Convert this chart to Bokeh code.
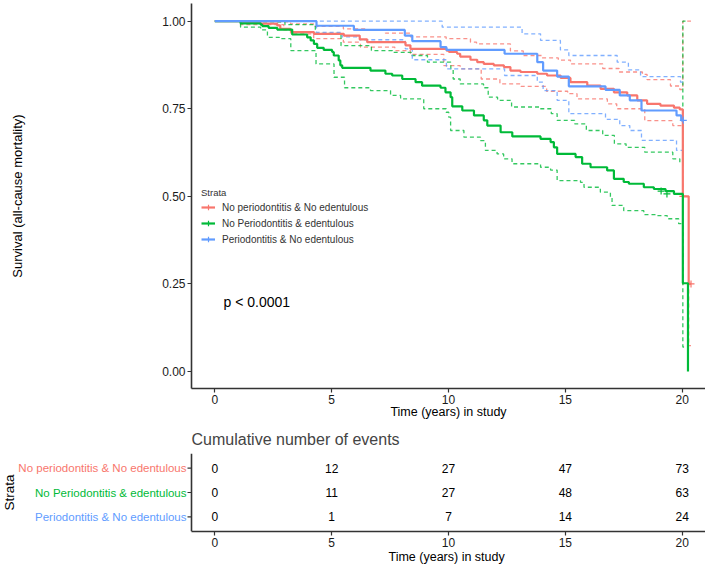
import math
from bokeh.plotting import figure
from bokeh.models import (Range1d, FixedTicker, Label, Legend, LegendItem, LinearAxis, Span, Title,
                          ColumnDataSource, NumeralTickFormatter)
from bokeh.layouts import column
from bokeh.core.properties import value
from bokeh.embed import file_html
from bokeh.resources import INLINE

FONT = "Liberation Sans"
RED = "#F8766D"
GREEN = "#00BA38"
BLUE = "#619CFF"
AXIS_COL = "#333333"

# ---------------- data ----------------
strata = ["No periodontitis & No edentulous",
          "No Periodontitis & edentulous",
          "Periodontitis & No edentulous"]

red_t = [0, 1.1, 1.96, 2.67, 2.8, 3.24, 3.3, 4.24, 5.52, 6.2, 6.52, 8.16, 8.37, 9.92, 10.02, 10.37, 10.5,
         10.94, 11.23, 11.51, 11.94, 12.37, 12.65, 13.08, 13.8, 14.22, 14.8, 15.22, 15.94, 16.51,
         17.08, 17.65, 18.08, 18.5, 19.07, 19.65, 19.9, 20.03, 20.28, 20.38]
red_s = [1.0, 0.996, 0.993, 0.988, 0.978, 0.973, 0.969, 0.964, 0.959, 0.948, 0.940, 0.931, 0.921, 0.916,
         0.912, 0.907, 0.899, 0.890, 0.883, 0.878, 0.874, 0.869, 0.859, 0.855, 0.850, 0.845, 0.838,
         0.826, 0.816, 0.807, 0.797, 0.788, 0.774, 0.764, 0.759, 0.753, 0.748, 0.500, 0.250, 0.250]
red_up_t = [0, 2.67, 3.24, 4.23, 5.5, 6.52, 7.3, 8.37, 9.9, 10.94, 11.2, 12.65, 13.2, 14.0, 14.7,
            15.22, 16.6, 17.3, 18.3, 18.5, 19.5, 19.9, 20.03, 20.38]
red_up_s = [1.0, 0.998, 0.992, 0.985, 0.978, 0.975, 0.966, 0.955, 0.950, 0.940, 0.935, 0.915, 0.902,
            0.895, 0.889, 0.878, 0.865, 0.855, 0.848, 0.833, 0.815, 0.805, 1.0, 1.0]
red_lo_t = [0, 1.1, 2.95, 3.24, 4.23, 5.5, 6.23, 7.7, 8.37, 9.8, 10.5, 11.4, 12.2, 13.1, 14.2, 15.1,
            15.5, 16.8, 17.2, 18.4, 19.6, 20.03, 20.28, 20.38]
red_lo_s = [1.0, 0.99, 0.975, 0.964, 0.95, 0.94, 0.926, 0.916, 0.905, 0.873, 0.864, 0.835, 0.821,
            0.814, 0.80, 0.793, 0.778, 0.764, 0.75, 0.716, 0.702, 0.25, 0.074, 0.074]

green_t = [0, 1.1, 1.96, 2.03, 2.3, 2.67, 3.31, 3.95, 4.1, 4.24, 4.38, 4.66, 5.02, 5.09, 5.3, 5.37, 5.45,
           6.66, 7.3, 7.59, 8.02, 8.59, 8.87, 9.66, 9.87, 10.09, 10.16, 10.59, 11.09, 11.51, 11.66,
           12.23, 12.73, 13.94, 14.37, 14.51, 14.65, 15.44, 15.72, 16.08, 16.79, 17.08, 17.5, 17.72,
           18.36, 18.79, 19.29, 19.65, 20.03, 20.25, 20.25]
green_s = [1.0, 0.994, 0.99, 0.986, 0.981, 0.976, 0.962, 0.954, 0.945, 0.935, 0.924, 0.918, 0.912,
           0.902, 0.888, 0.874, 0.867, 0.859, 0.850, 0.845, 0.835, 0.826, 0.816, 0.810, 0.797, 0.783,
           0.757, 0.745, 0.731, 0.717, 0.702, 0.683, 0.671, 0.664, 0.655, 0.640, 0.621, 0.612, 0.593,
           0.583, 0.574, 0.550, 0.541, 0.536, 0.526, 0.521, 0.515, 0.507, 0.252, 0.0, 0.0]
green_up_t = [0, 1.1, 3.0, 4.3, 5.4, 6.7, 7.6, 8.4, 9.1, 10.1, 10.2, 10.5, 11.5, 11.7, 12.1, 12.7,
              13.9, 14.4, 14.65, 15.4, 15.9, 16.6, 17.1, 17.6, 18.4, 19.6, 19.9, 20.03, 20.25]
green_up_s = [1.0, 0.998, 0.99, 0.965, 0.93, 0.916, 0.911, 0.902, 0.883, 0.864, 0.835, 0.821, 0.81,
              0.783, 0.774, 0.755, 0.75, 0.736, 0.717, 0.707, 0.688, 0.674, 0.65, 0.64, 0.626, 0.607,
              0.597, 1.0, 1.0]
green_lo_t = [0, 1.1, 1.96, 2.25, 2.76, 3.25, 4.33, 5.1, 5.55, 6.66, 7.52, 7.95, 8.94, 9.9, 10.01,
              10.09, 10.66, 11.37, 11.58, 12.08, 12.36, 12.72, 13.94, 14.37, 14.65, 15.65, 15.8, 16.5,
              16.93, 17.0, 17.5, 18.36, 18.93, 19.36, 19.85, 20.03, 20.25]
green_lo_s = [1.0, 0.983, 0.975, 0.954, 0.95, 0.916, 0.878, 0.84, 0.81, 0.802, 0.788, 0.778, 0.75,
              0.74, 0.726, 0.688, 0.669, 0.659, 0.631, 0.621, 0.607, 0.593, 0.583, 0.575, 0.545, 0.54,
              0.526, 0.512, 0.498, 0.474, 0.459, 0.448, 0.445, 0.436, 0.422, 0.07, 0.07]

blue_t = [0, 4.35, 5.95, 8.13, 8.45, 9.66, 9.91, 12.4, 13.8, 14.05, 14.65, 15.15, 16.72, 17.33, 17.76,
          18.26, 19.76, 19.96, 20.05]
blue_s = [1.0, 0.987, 0.975, 0.959, 0.943, 0.926, 0.918, 0.907, 0.883, 0.859, 0.842, 0.814, 0.804,
          0.788, 0.774, 0.745, 0.731, 0.717, 0.717]
blue_up_t = [0, 9.73, 13.15, 13.94, 14.79, 15.15, 17.22, 17.7, 18.22, 19.93, 20.05]
blue_up_s = [1.0, 0.983, 0.964, 0.945, 0.918, 0.902, 0.883, 0.861, 0.842, 0.826, 0.826]
blue_lo_t = [0, 4.35, 5.45, 6.2, 8.15, 8.45, 9.91, 12.4, 13.8, 14.05, 14.65, 15.15, 16.72, 17.33,
             17.76, 18.26, 19.76, 20.05]
blue_lo_s = [1.0, 0.968, 0.955, 0.947, 0.921, 0.89, 0.864, 0.845, 0.826, 0.802, 0.774, 0.736, 0.72,
             0.702, 0.688, 0.66, 0.631, 0.631]

# censoring marks
red_cens_t = [20.03, 20.38]
red_cens_s = [0.500, 0.250]
green_cens_t = [19.1, 19.35]
green_cens_s = [0.515, 0.507]
blue_cens_t = [20.05]
blue_cens_s = [0.717]

table_times = [0, 5, 10, 15, 20]
red_events = [0, 12, 27, 47, 73]
green_events = [0, 11, 27, 48, 63]
blue_events = [0, 1, 7, 14, 24]

x_ticks = [0, 5, 10, 15, 20]
y_ticks = [0, 0.25, 0.5, 0.75, 1.0]
rows = [3, 2, 1]

X_START, X_END = -1, 21          # panel limits (time axis)
PX_PER_YEAR = 514 / (X_END - X_START)

# ---------------- survival plot ----------------
p = figure(width=705, height=422, x_range=Range1d(X_START, X_END), y_range=Range1d(-0.0485, 1.0505),
           output_backend="svg", toolbar_location=None, frame_align=False,
           min_border_left=191, min_border_right=0, min_border_top=3, min_border_bottom=34)
p.outline_line_color = None
p.grid.visible = False


def style_axis(ax):
    ax.axis_line_color = AXIS_COL
    ax.axis_line_width = 1.6
    ax.major_tick_line_color = AXIS_COL
    ax.major_tick_line_width = 1.2
    ax.major_tick_out = 4
    ax.major_tick_in = 0
    ax.minor_tick_line_color = None
    ax.major_label_text_font = FONT
    ax.major_label_text_font_size = "12px"
    ax.major_label_text_color = "#1a1a1a"
    ax.axis_label_text_font = FONT
    ax.axis_label_text_font_size = "12.5px"
    ax.axis_label_text_font_style = "normal"
    ax.axis_label_text_color = "black"


for ax in (p.xaxis[0], p.yaxis[0]):
    style_axis(ax)
p.xaxis.ticker = FixedTicker(ticks=x_ticks)
p.yaxis.ticker = FixedTicker(ticks=y_ticks)
p.yaxis.formatter = NumeralTickFormatter(format="0.00")
p.xaxis.axis_label = "Time (years) in study"
p.yaxis.axis_label = "Survival (all-cause mortality)"
p.yaxis.axis_label_text_font_size = "13px"
p.xaxis.major_label_standoff = 2
p.xaxis.axis_label_standoff = -2
p.yaxis.major_label_standoff = 2
p.yaxis.axis_label_standoff = 134

series = [
    (RED, red_t, red_s, red_up_t, red_up_s, red_lo_t, red_lo_s, red_cens_t, red_cens_s),
    (GREEN, green_t, green_s, green_up_t, green_up_s, green_lo_t, green_lo_s, green_cens_t, green_cens_s),
    (BLUE, blue_t, blue_s, blue_up_t, blue_up_s, blue_lo_t, blue_lo_s, blue_cens_t, blue_cens_s),
]
items = []
for name, (col, t, s, ut, us, lt, ls, ct, cs) in zip(strata, series):
    p.step(ut, us, mode="after", line_color=col, line_width=1.3, line_dash="4 3", line_alpha=0.8)
    p.step(lt, ls, mode="after", line_color=col, line_width=1.3, line_dash="4 3", line_alpha=0.8)
for name, (col, t, s, ut, us, lt, ls, ct, cs) in zip(strata, series):
    r_line = p.step(t, s, mode="after", line_color=col, line_width=2.2)
    r_cross = p.scatter(ct, cs, marker="cross", size=7, line_color=col, line_width=1.2)
    items.append(LegendItem(label=name, renderers=[r_line, r_cross]))

legend = Legend(items=items, location=(10, 142), title="Strata",
                title_text_font=FONT, title_text_font_size="9.5px", title_text_font_style="normal",
                title_text_color="#333333", title_standoff=2,
                label_text_font=FONT, label_text_font_size="10px", label_text_color="#333333",
                glyph_width=14, glyph_height=14, label_height=14, spacing=2, padding=4, margin=0,
                label_standoff=7, border_line_color=None, background_fill_alpha=0)
p.add_layout(legend)

p.add_layout(Label(x=0.37, y=0.198, text="p < 0.0001", text_font=FONT, text_font_size="14px",
                   text_baseline="middle", text_align="left", text_color="black"))

# ---------------- risk table ----------------
# frame spans the full width so the coloured strata names can be drawn as glyphs
q_start = X_START - 191 / PX_PER_YEAR
q = figure(width=705, height=144, x_range=Range1d(q_start, X_END), y_range=Range1d(0.4, 3.6),
           output_backend="svg", toolbar_location=None, frame_align=False,
           x_axis_location=None, y_axis_location=None,
           min_border_left=0, min_border_right=0, min_border_top=30, min_border_bottom=35)
q.outline_line_color = None
q.grid.visible = False

qx = LinearAxis(bounds=(X_START, X_END), ticker=FixedTicker(ticks=x_ticks))
style_axis(qx)
qx.major_label_standoff = 2
q.add_layout(qx, "below")
q.add_layout(Title(text="Time (years) in study", align="left", offset=388, standoff=-4,
                   text_font=FONT, text_font_size="12.5px", text_font_style="normal",
                   text_color="black"), "below")

# y axis line and ticks of the table
q.add_layout(Span(location=X_START, dimension="height", line_color=AXIS_COL, line_width=1.6))
tick_len = 4 / PX_PER_YEAR
q.segment(x0=[X_START] * len(rows), x1=[X_START - tick_len] * len(rows), y0=rows, y1=rows,
          line_color=AXIS_COL, line_width=1.2)

q.title.text = "Cumulative number of events"
q.title.text_font = FONT
q.title.text_font_size = "16px"
q.title.text_font_style = "normal"
q.title.align = "left"
q.title.offset = 191
q.title.standoff = 12

for row, ev in zip(rows, [red_events, green_events, blue_events]):
    src = ColumnDataSource(dict(t=table_times, y=[row] * len(table_times), n=[str(v) for v in ev]))
    q.text(x="t", y="y", text="n", source=src, text_align="center", text_baseline="middle",
           text_font=value(FONT), text_font_size="12px", text_color="black")

label_x = X_START - 5 / PX_PER_YEAR
lab_src = ColumnDataSource(dict(x=[label_x] * 3, y=rows, name=strata, c=[RED, GREEN, BLUE]))
q.text(x="x", y="y", text="name", text_color="c", source=lab_src, text_align="right",
       text_baseline="middle", text_font=value(FONT), text_font_size="11.5px")

q.text(x=[q_start + 9 / PX_PER_YEAR], y=[2], text=["Strata"], angle=math.pi / 2,
       text_align="center", text_baseline="middle", text_font=value(FONT),
       text_font_size="13.5px", text_color="black")

layout = column(p, q, spacing=0)
open("out.html", "w").write(file_html(layout, INLINE))
